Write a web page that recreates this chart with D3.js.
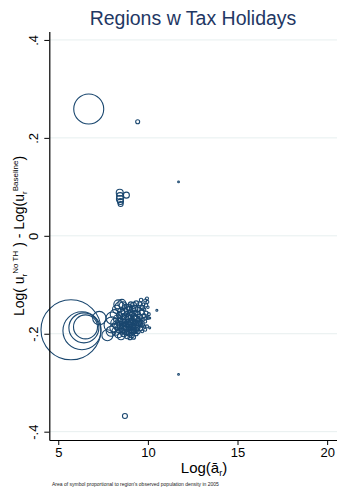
<!DOCTYPE html>
<html>
<head>
<meta charset="utf-8">
<script src="https://cdn.jsdelivr.net/npm/d3@7"></script>
<style>
  html, body { margin: 0; padding: 0; background: #fff; }
  svg { display: block; font-family: "Liberation Sans", Arial, Helvetica, sans-serif; }
</style>
</head>
<body>
<svg id="chart" width="337" height="490"></svg>
<script>
// Log of regional amenity (x), change in log utility without tax holidays (y),
// and observed 2005 population density (symbol area), one entry per region.
const logA = [
  6.70, 9.43, 11.71, 8.43, 8.45, 8.44, 8.47, 8.48, 8.80, 11.71, 8.72,
  5.71, 6.32, 6.43, 6.52, 7.29, 8.00, 7.74, 8.44, 8.00,
  8.35, 8.62, 8.50,
  9.95, 9.97, 9.90, 9.62, 9.55, 9.35, 9.20, 9.05, 8.95, 8.78, 9.80, 10.50, 9.70, 10.00,
  10.05, 10.00, 9.90, 9.78, 9.65, 9.55, 9.45, 9.38, 9.30, 9.22, 9.12, 9.05, 8.98, 8.90,
  8.82, 8.75, 8.65, 8.55, 8.42, 8.30, 8.18,
  9.95, 9.85, 9.70, 9.60, 9.50, 9.42, 9.32, 9.25, 9.15, 9.08, 9.00, 8.93, 8.85, 8.78,
  8.70, 8.62, 8.55, 8.48, 8.40, 8.30, 8.22, 8.10, 9.10, 9.20, 9.00, 8.85, 10.10, 10.10,
  9.18, 9.28, 9.40, 9.48, 9.10, 8.98, 8.88, 9.55, 9.62, 9.72, 9.85, 9.02, 9.35, 9.22,
  8.95, 9.45, 8.70, 8.60, 9.90, 9.68, 9.80,
  7.95, 8.15, 8.25, 8.55, 8.70, 8.88, 9.00, 9.15, 9.28, 9.42, 8.80, 8.65, 8.50, 8.35,
  9.05, 8.92, 9.30, 9.15, 9.40, 9.60, 8.75, 8.60, 9.50, 9.75, 9.85, 9.65, 8.40, 8.25,
  9.05, 9.35
];
const dLogU = [
  0.259, 0.233, 0.110, 0.088, 0.081, 0.075, 0.070, 0.065, 0.083, -0.283, -0.368,
  -0.192, -0.194, -0.188, -0.186, -0.168, -0.182, -0.203, -0.145, -0.168,
  -0.140, -0.143, -0.155,
  -0.128, -0.135, -0.142, -0.131, -0.139, -0.138, -0.142, -0.140, -0.146, -0.147, -0.150, -0.152, -0.147, -0.146,
  -0.160, -0.168, -0.158, -0.163, -0.157, -0.165, -0.160, -0.170, -0.158, -0.165, -0.160, -0.168, -0.158, -0.166,
  -0.160, -0.170, -0.165, -0.172, -0.163, -0.170, -0.178,
  -0.185, -0.192, -0.182, -0.190, -0.180, -0.188, -0.182, -0.195, -0.185, -0.192, -0.182, -0.198, -0.188, -0.180,
  -0.192, -0.185, -0.195, -0.182, -0.190, -0.185, -0.195, -0.188, -0.203, -0.207, -0.208, -0.205, -0.168, -0.188,
  -0.175, -0.176, -0.178, -0.172, -0.172, -0.175, -0.176, -0.176, -0.170, -0.172, -0.175, -0.186, -0.192, -0.188,
  -0.190, -0.196, -0.178, -0.175, -0.168, -0.195, -0.185,
  -0.195, -0.160, -0.150, -0.138, -0.155, -0.152, -0.150, -0.150, -0.148, -0.150, -0.195, -0.200, -0.205, -0.200,
  -0.178, -0.182, -0.168, -0.195, -0.185, -0.180, -0.185, -0.190, -0.150, -0.140, -0.132, -0.145, -0.175, -0.182,
  -0.198, -0.200
];
const popDensity = [
  900, 16, 3, 49, 49, 49, 36, 25, 36, 3, 25,
  3600, 1444, 900, 576, 180, 256, 121, 100, 144,
  81, 64, 49,
  9, 9, 12, 12, 16, 25, 36, 25, 36, 49, 9, 4, 16, 6,
  9, 9, 16, 16, 25, 25, 25, 36, 25, 36, 25, 36, 25, 36,
  25, 49, 36, 49, 36, 64, 81,
  9, 9, 16, 16, 25, 25, 36, 25, 36, 36, 36, 36, 49, 36,
  49, 49, 36, 49, 64, 49, 64, 64, 25, 16, 16, 25, 4, 4,
  25, 25, 16, 16, 25, 36, 25, 16, 16, 9, 9, 25, 25, 25,
  25, 16, 36, 36, 9, 9, 9,
  100, 81, 64, 64, 49, 49, 36, 36, 36, 25, 49, 36, 49, 64,
  36, 36, 36, 36, 25, 16, 49, 49, 16, 9, 9, 12, 49, 64,
  25, 16
];

const xTicks = [5, 10, 15, 20];
const xTickLabels = ["5", "10", "15", "20"];
const yTicks = [-0.4, -0.2, 0, 0.2, 0.4];
const yTickLabels = ["-.4", "-.2", "0", ".2", ".4"];

const chartTitle = "Regions w Tax Holidays";
const noteText = "Area of symbol proportional to region's observed population density in 2005";

const svg = d3.select("#chart");
const navy = "#1a476f";

const plotLeft = 49.3, plotRight = 337, plotTop = 31.6, plotBottom = 440;

const x = d3.scaleLinear().domain([4.5, 20.55]).range([plotLeft, plotRight]);
const y = d3.scaleLinear().domain([-0.417, 0.417]).range([plotBottom, plotTop]);
const r = d3.scaleSqrt().domain([0, 3600]).range([0, 30]);

// horizontal grid lines
svg.append("g")
  .selectAll("line")
  .data(yTicks)
  .join("line")
  .attr("x1", plotLeft).attr("x2", plotRight)
  .attr("y1", d => y(d)).attr("y2", d => y(d))
  .attr("stroke", "#e7efef")
  .attr("stroke-width", 1);

// hollow circles, area proportional to density
const rows = logA.map((v, i) => ({ a: v, u: dLogU[i], p: popDensity[i] }));
svg.append("g")
  .selectAll("circle")
  .data(rows)
  .join("circle")
  .attr("cx", d => x(d.a))
  .attr("cy", d => y(d.u))
  .attr("r", d => r(d.p))
  .attr("fill", "none")
  .attr("stroke", navy)
  .attr("stroke-width", 1.1);

// x axis
const xAxis = svg.append("g")
  .attr("transform", `translate(0,${plotBottom})`)
  .call(d3.axisBottom(x).tickValues(xTicks)
    .tickFormat((d, i) => xTickLabels[i])
    .tickSize(5).tickSizeOuter(0));
xAxis.select(".domain").attr("stroke", "#000").attr("stroke-width", 1.2);
xAxis.selectAll(".tick line").attr("stroke", "#000");
xAxis.selectAll(".tick text")
  .attr("fill", "#000")
  .attr("font-size", 13)
  .attr("y", 8).attr("dy", "0.71em");

// y axis with vertical tick labels
const yAxis = svg.append("g")
  .attr("transform", `translate(${plotLeft},0)`)
  .call(d3.axisLeft(y).tickValues(yTicks)
    .tickFormat((d, i) => yTickLabels[i])
    .tickSize(5).tickSizeOuter(0));
yAxis.select(".domain").attr("stroke", "#000").attr("stroke-width", 1.2);
yAxis.selectAll(".tick line").attr("stroke", "#000");
yAxis.selectAll(".tick text")
  .attr("fill", "#000")
  .attr("font-size", 13)
  .attr("x", null).attr("dy", null)
  .attr("text-anchor", "middle")
  .attr("transform", "translate(-11.5,0) rotate(-90)");

svg.selectAll(".tick text").attr("font-family", "'Liberation Sans', Arial, sans-serif");

// title
svg.append("text")
  .attr("x", 193).attr("y", 25)
  .attr("text-anchor", "middle")
  .attr("font-size", 19.5)
  .attr("fill", "#1f3864")
  .text(chartTitle);

// x axis title with subscript
const xt = svg.append("text")
  .attr("x", 204).attr("y", 473)
  .attr("text-anchor", "middle")
  .attr("font-size", 15)
  .attr("fill", "#000");
xt.append("tspan").text("Log(ā");
xt.append("tspan").attr("font-size", 9).attr("dy", 3).text("r");
xt.append("tspan").attr("dy", -3).text(")");

// y axis title with sub/superscripts
const yt = svg.append("text")
  .attr("transform", "translate(24,236) rotate(-90)")
  .attr("text-anchor", "middle")
  .attr("font-size", 14)
  .attr("fill", "#000");
yt.append("tspan").text("Log( u");
yt.append("tspan").attr("font-size", 8).attr("dy", 3).text("r");
yt.append("tspan").attr("font-size", 8).attr("dy", -9).text("No TH");
yt.append("tspan").attr("dy", 6).text(" )  -  Log(u");
yt.append("tspan").attr("font-size", 8).attr("dy", 3).text("r");
yt.append("tspan").attr("font-size", 8).attr("dy", -9).text("Baseline");
yt.append("tspan").attr("dy", 6).text(")");

// note
svg.append("text")
  .attr("x", 52).attr("y", 486)
  .attr("font-size", 5)
  .attr("fill", "#222")
  .text(noteText);
</script>
</body>
</html>
